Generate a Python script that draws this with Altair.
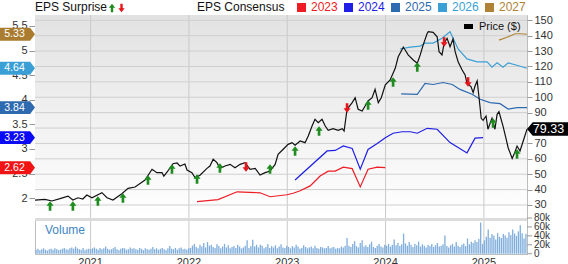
import altair as alt
import pandas as pd

FONT = "Liberation Sans"
W, H = 492, 239  # plot area: price panel on top, volume strip below

# ---------------- weekly volume, in thousands of shares ----------------
volume_start = "2020-06-12"
volume_2020 = [9, 11, 8, 10, 12, 9, 7, 10, 11, 9, 12, 10, 8, 9, 11, 13, 10, 9, 12, 14,
               11, 16, 12, 10, 9, 13, 8, 10, 11]
volume_2021 = [10, 12, 14, 11, 9, 13, 10, 12, 16, 11, 9, 10, 12, 15, 10, 8, 11, 13, 12, 9,
               10, 14, 11, 12, 10, 9, 13, 11, 8, 12, 10, 9, 11, 15, 10, 12, 9, 11, 13, 10,
               8, 12, 17, 11, 10, 13, 9, 12, 14, 10, 11, 9, 12]
volume_2022 = [13, 18, 22, 15, 12, 20, 16, 24, 14, 26, 18, 20, 15, 13, 21, 17, 12, 16, 22, 14,
               19, 12, 15, 17, 13, 20, 16, 12, 14, 18, 30, 13, 17, 31, 16, 20, 14, 20, 18, 12,
               15, 22, 13, 17, 14, 19, 12, 16, 21, 14, 13, 18]
volume_2023 = [15, 12, 17, 14, 20, 16, 11, 13, 19, 15, 12, 14, 16, 12, 18, 13, 11, 15, 14, 12,
               13, 17, 12, 14, 15, 11, 13, 12, 16, 14, 18, 35, 18, 15, 22, 28, 17, 14, 24, 30,
               16, 19, 15, 21, 27, 15, 13, 18, 22, 16, 14, 20]
volume_2024 = [18, 22, 16, 20, 32, 19, 24, 17, 21, 45, 23, 18, 26, 20, 15, 22, 19, 27, 16, 21,
               18, 14, 20, 17, 22, 15, 19, 24, 16, 18, 21, 41, 17, 14, 19, 22, 16, 26, 18, 15,
               20, 23, 17, 34, 21, 27, 24, 30, 26, 33, 70, 22]
volume_2025 = [30, 38, 54, 36, 44, 40, 32, 46, 38, 35, 44, 41, 36, 48, 42, 54, 45, 40, 50, 64,
               46, 34, 44]

# ---------------- share price ($) ----------------
price_dates = [
    "2020-06-08", "2020-07-15", "2020-08-10", "2020-09-09", "2020-10-09", "2020-10-27",
    "2020-11-15", "2020-12-03", "2020-12-18", "2021-01-06", "2021-02-12", "2021-03-03",
    "2021-03-25", "2021-04-27", "2021-05-20", "2021-06-15", "2021-07-22", "2021-08-17",
    "2021-09-04", "2021-09-23", "2021-09-30", "2021-10-15", "2021-11-03", "2021-11-18",
    "2021-11-29", "2021-12-17", "2021-12-25", "2022-01-12", "2022-01-24", "2022-02-11",
    "2022-03-09", "2022-03-20", "2022-04-01", "2022-04-15", "2022-04-26", "2022-05-15",
    "2022-06-03", "2022-06-21", "2022-07-10", "2022-07-28", "2022-08-16", "2022-09-04",
    "2022-09-22", "2022-10-11", "2022-10-29", "2022-11-17", "2022-11-28", "2022-12-17",
    "2023-01-04", "2023-01-19", "2023-01-30", "2023-02-18", "2023-03-08", "2023-03-20",
    "2023-04-03", "2023-04-14", "2023-04-26", "2023-05-10", "2023-05-22", "2023-06-02",
    "2023-06-20", "2023-07-09", "2023-07-24", "2023-07-31", "2023-08-11", "2023-08-30",
    "2023-09-10", "2023-09-21", "2023-10-06", "2023-10-17", "2023-10-28", "2023-11-12",
    "2023-11-23", "2023-12-05", "2023-12-16", "2023-12-31", "2024-01-18", "2024-02-06",
    "2024-02-17", "2024-03-07", "2024-03-14", "2024-03-25", "2024-04-13", "2024-04-28",
    "2024-05-09", "2024-05-20", "2024-06-04", "2024-06-08", "2024-06-26", "2024-07-11",
    "2024-07-18", "2024-07-29", "2024-08-06", "2024-08-17", "2024-08-28", "2024-09-08",
    "2024-09-16", "2024-09-27", "2024-10-12", "2024-10-23", "2024-10-30", "2024-11-14",
    "2024-11-22", "2024-11-29", "2024-12-07", "2024-12-14", "2024-12-22", "2024-12-29",
    "2025-01-09", "2025-01-16", "2025-01-31", "2025-02-11", "2025-02-19", "2025-02-26",
    "2025-03-13", "2025-03-24", "2025-04-01", "2025-04-16", "2025-04-23", "2025-05-04",
    "2025-05-15", "2025-05-27", "2025-06-10",
]
price_values = [
    33.2, 33.7, 32.6, 34.1, 35.8, 33.2, 34.7, 33.9, 36.5, 34.7, 38.0, 34.7,
    33.2, 37.3, 40.8, 41.7, 46.2, 53.2, 51.0, 51.0, 48.8, 52.1, 56.8, 57.3,
    55.3, 56.6, 52.7, 51.0, 47.7, 49.3, 53.8, 55.3, 59.7, 57.5, 53.8, 55.3,
    56.4, 54.2, 56.4, 57.5, 53.2, 53.8, 49.5, 51.0, 52.1, 56.4, 62.9, 66.2,
    69.4, 70.5, 68.8, 71.6, 70.5, 74.8, 81.3, 85.7, 83.5, 85.7, 81.3, 78.5,
    79.6, 78.5, 79.6, 78.1, 92.2, 96.5, 99.7, 92.2, 91.1, 94.3, 97.6, 99.7,
    105.2, 96.5, 99.7, 108.0, 111.2, 118.8, 126.3, 132.5, 130.7, 127.5, 124.2, 122.1,
    127.5, 134.0, 141.6, 142.6, 142.2, 139.3, 129.6, 127.5, 135.1, 138.3, 132.8, 137.8,
    129.6, 123.1, 117.7, 114.5, 109.1, 106.9, 103.0, 107.3, 110.6, 99.7, 86.3, 85.0,
    87.8, 79.2, 86.3, 79.2, 88.9, 90.6, 81.3, 73.3, 67.2, 60.3, 62.9, 68.3,
    65.1, 71.6, 79.33,
]
last_price = 79.33

# ---------------- EPS consensus, by fiscal year ----------------
eps_2023_dates = ["2022-01-31", "2022-04-19", "2022-06-29", "2022-09-22", "2022-10-29",
                  "2022-12-31", "2023-01-23", "2023-02-18", "2023-03-27", "2023-05-03",
                  "2023-06-02", "2023-06-28", "2023-07-28", "2023-08-30", "2023-09-29",
                  "2023-10-28", "2023-12-01", "2023-12-31"]
eps_2023_values = [1.93, 1.97, 2.13, 2.11, 2.03, 2.07, 2.10, 2.15, 2.25, 2.45,
                   2.55, 2.55, 2.63, 2.60, 2.23, 2.59, 2.63, 2.62]

eps_2024_dates = ["2023-01-30", "2023-05-29", "2023-06-28", "2023-07-28", "2023-08-30",
                  "2023-09-29", "2023-10-28", "2023-12-01", "2023-12-31", "2024-01-29",
                  "2024-03-03", "2024-04-02", "2024-04-28", "2024-06-04", "2024-07-11",
                  "2024-08-28", "2024-10-30", "2024-11-29", "2024-12-29"]
eps_2024_values = [2.37, 2.96, 2.97, 3.06, 3.01, 2.59, 2.99, 3.11, 3.23, 3.32,
                   3.35, 3.35, 3.32, 3.42, 3.40, 3.13, 2.92, 3.22, 3.23]

eps_2025_dates = ["2024-02-28", "2024-04-28", "2024-05-27", "2024-06-26", "2024-08-02",
                  "2024-09-05", "2024-10-04", "2024-11-18", "2024-12-18", "2025-01-24",
                  "2025-03-02", "2025-04-01", "2025-05-04", "2025-06-10"]
eps_2025_values = [4.12, 4.11, 4.33, 4.31, 4.35, 4.31, 4.21, 4.11, 4.01, 3.94,
                   3.92, 3.81, 3.84, 3.84]

eps_2026_dates = ["2024-02-24", "2024-04-02", "2024-05-09", "2024-05-27", "2024-06-26",
                  "2024-07-29", "2024-08-28", "2024-09-27", "2024-10-30", "2024-12-07",
                  "2025-01-13", "2025-01-31", "2025-02-19", "2025-03-13", "2025-04-01",
                  "2025-04-27", "2025-06-10"]
eps_2026_values = [5.03, 5.07, 5.09, 5.15, 5.15, 5.25, 5.38, 5.03, 4.83, 4.77,
                   4.77, 4.66, 4.75, 4.66, 4.75, 4.71, 4.64]

eps_2027_dates = ["2025-02-26", "2025-03-28", "2025-04-27", "2025-05-15", "2025-06-10"]
eps_2027_values = [5.21, 5.27, 5.34, 5.34, 5.33]

consensus_years = ["2023", "2024", "2025", "2026", "2027"]
consensus_colors = ["#EE1C25", "#1E1EE6", "#2E6AB0", "#3A9FD5", "#B08236"]
badge_colors = ["#F01414", "#0A0AF5", "#2E6AB0", "#3A9FD5", "#A97C2F"]
latest_consensus = [2.62, 3.23, 3.84, 4.64, 5.33]

# ---------------- quarterly EPS surprises ----------------
surprise_dates = ["2020-08-03", "2020-10-27", "2021-01-28", "2021-05-01", "2021-08-02",
                  "2021-10-30", "2022-01-31", "2022-04-26", "2022-08-01", "2022-10-29",
                  "2023-01-30", "2023-04-29", "2023-08-11", "2023-10-28", "2024-01-29",
                  "2024-04-28", "2024-08-06", "2024-11-03", "2025-02-04", "2025-05-04"]
surprise_levels = [29.3, 29.3, 32.6, 34.5, 46.2, 53.4, 46.9, 54.0, 54.7, 53.4,
                   65.1, 78.1, 93.0, 94.9, 109.9, 119.7, 135.9, 109.9, 83.3, 63.2]
surprise_dirs = ["up", "up", "up", "up", "up", "up", "up", "up", "down", "up",
                 "up", "up", "down", "up", "up", "up", "down", "down", "up", "up"]

# ---------------- axis ticks ----------------
price_ticks = [30, 40, 50, 60, 70, 80, 90, 100, 110, 120, 130, 140, 150]
eps_ticks = [2, 2.5, 3, 3.5, 4, 4.5, 5, 5.5]
volume_ticks = [0, 20, 40, 60, 80]
volume_tick_labels = ["0", "20k", "40k", "60k", "80k"]
year_ticks = [2021, 2022, 2023, 2024, 2025]
year_tick_labels = ["2021", "2022", "2023", "2024", "2025"]
first_day, last_day = "2020-06-08", "2025-06-10"


def year_fraction(day):
    """Calendar date -> fractional year, used as the horizontal position."""
    ts = pd.Timestamp(day)
    return ts.year + (ts.dayofyear - 1) / (366 if ts.is_leap_year else 365)


def with_position(df):
    df = df.copy()
    df["t"] = [year_fraction(d) for d in df["date"]]
    return df


# ---------------- tables ----------------
volume_all = volume_2020 + volume_2021 + volume_2022 + volume_2023 + volume_2024 + volume_2025
volume_df = with_position(pd.DataFrame({
    "date": list(pd.date_range(volume_start, periods=len(volume_all), freq="7D").strftime("%Y-%m-%d")),
    "volume": volume_all,
}))
price_df = with_position(pd.DataFrame({"date": price_dates, "price": price_values}))
eps_df = with_position(pd.concat([
    pd.DataFrame({"date": d, "eps": v, "year": y})
    for d, v, y in [
        (eps_2023_dates, eps_2023_values, "2023"),
        (eps_2024_dates, eps_2024_values, "2024"),
        (eps_2025_dates, eps_2025_values, "2025"),
        (eps_2026_dates, eps_2026_values, "2026"),
        (eps_2027_dates, eps_2027_values, "2027"),
    ]
], ignore_index=True))
badge_df = pd.DataFrame({"year": consensus_years, "eps": latest_consensus})
surprise_df = with_position(pd.DataFrame({"date": surprise_dates, "price": surprise_levels,
                                          "dir": surprise_dirs}))
vol_tick_df = pd.DataFrame({"v": volume_ticks, "label": volume_tick_labels})
year_df = pd.DataFrame({"t": year_ticks, "label": year_tick_labels})

# ---------------- scales ----------------
# The value scales all span the full plot height; their domains place the price
# panel in the upper part and the volume strip along the bottom.
x_scale = alt.Scale(domain=[year_fraction(first_day), year_fraction(last_day)], nice=False, zero=False)
price_scale = alt.Scale(domain=[-1.84, 153.44], nice=False, zero=False)
eps_scale = alt.Scale(domain=[0.8666, 5.7211], nice=False, zero=False)
vol_scale = alt.Scale(domain=[-0.67, 534.9], nice=False, zero=False)
badge_color = alt.Color("year:N", scale=alt.Scale(domain=consensus_years, range=badge_colors), legend=None)
line_color = alt.Color("year:N", scale=alt.Scale(domain=consensus_years, range=consensus_colors), legend=None)

X = alt.X("t:Q", scale=x_scale, axis=None)

# symbol paths in the [-1, 1] box
UP = "M0,-1L0.75,-0.05L0.28,-0.05L0.28,1L-0.28,1L-0.28,-0.05L-0.75,-0.05Z"
DOWN = "M0,1L0.75,0.05L0.28,0.05L0.28,-1L-0.28,-1L-0.28,0.05L-0.75,0.05Z"
TAG_RIGHT = "M-1,-0.37L0.72,-0.37L1,0L0.72,0.37L-1,0.37Z"
TAG_LEFT = "M-1,0L-0.72,-0.33L1,-0.33L1,0.33L-0.72,0.33Z"
GREEN, RED = "#1E8C1E", "#E8141B"

layers = []

# panel background (soft gray fading to white)
layers.append(
    alt.Chart(pd.DataFrame({"panel": ["price"]})).mark_rect(
        color=alt.LinearGradient(
            gradient="linear",
            stops=[alt.GradientStop(color="#E2E2E2", offset=0),
                   alt.GradientStop(color="#FFFFFF", offset=1)],
            x1=1, x2=1, y1=0, y2=1),
    ).encode(x=alt.value(0), x2=alt.value(W), y=alt.value(0), y2=alt.value(203))
)

# grid
layers.append(
    alt.Chart(year_df).mark_rule(color="#C9C9C9", strokeWidth=1).encode(x=X)
)
layers.append(
    alt.Chart(pd.DataFrame({"price": price_ticks})).mark_rule(color="#CFCFCF", strokeWidth=1)
    .encode(y=alt.Y("price:Q", scale=price_scale, axis=None))
)
layers.append(
    alt.Chart(pd.DataFrame({"panel": ["divider"]})).mark_rule(color="#DCDCDC", strokeWidth=3)
    .encode(x=alt.value(0), x2=alt.value(W), y=alt.value(204.5))
)

# year labels under the plot
layers.append(
    alt.Chart(year_df).mark_text(align="center", baseline="top", fontSize=11,
                                 font=FONT, color="#333333")
    .encode(x=X, y=alt.value(H + 2.5), text="label:N")
)

# volume
layers.append(
    alt.Chart(volume_df).transform_calculate(base="0")
    .mark_rule(color="#7FAEDC", strokeWidth=1.3).encode(
        x=X,
        y=alt.Y("volume:Q", scale=vol_scale, axis=None),
        y2="base:Q",
    )
)
layers.append(
    alt.Chart(vol_tick_df).mark_rule(color="#999999")
    .encode(x=alt.value(W), x2=alt.value(W + 5), y=alt.Y("v:Q", scale=vol_scale, axis=None))
)
layers.append(
    alt.Chart(vol_tick_df).mark_text(align="left", baseline="middle", fontSize=10,
                                     font=FONT, color="#333333")
    .encode(x=alt.value(W + 7), y=alt.Y("v:Q", scale=vol_scale, axis=None), text="label:N")
)
layers.append(
    alt.Chart(pd.DataFrame({"label": ["Volume"]})).mark_text(
        align="left", baseline="middle", fontSize=12, font=FONT, color="#3F86C4")
    .encode(x=alt.value(10), y=alt.value(215), text="label:N")
)

# EPS consensus lines (left axis)
layers.append(
    alt.Chart(eps_df).mark_line(strokeWidth=1.2).encode(
        x=X,
        y=alt.Y("eps:Q", scale=eps_scale, axis=alt.Axis(
            values=eps_ticks, format="~g", grid=False, domain=False,
            tickSize=6, tickColor="#999999", labelPadding=2, labelFontSize=11,
            labelColor="#333333", labelFont=FONT, title=None)),
        color=line_color,
        detail="year:N",
    )
)

# price line (right axis)
layers.append(
    alt.Chart(price_df).mark_line(color="#111111", strokeWidth=1.2).encode(
        x=X,
        y=alt.Y("price:Q", scale=price_scale, axis=alt.Axis(
            values=price_ticks, grid=False, domain=False,
            tickSize=5, tickColor="#999999", labelPadding=2, labelFontSize=11,
            labelColor="#333333", labelFont=FONT, title=None)),
    )
)

# surprise arrows
for direction, path, col in [("up", UP, GREEN), ("down", DOWN, RED)]:
    layers.append(
        alt.Chart(surprise_df).transform_filter(alt.datum.dir == direction)
        .mark_point(shape=path, size=90, filled=True, opacity=1, color=col, strokeWidth=0)
        .encode(x=X, y=alt.Y("price:Q", scale=price_scale, axis=None))
    )

# latest consensus tags on the left
layers.append(
    alt.Chart(badge_df).mark_point(shape=TAG_RIGHT, size=1225, filled=True, opacity=1, strokeWidth=0)
    .encode(x=alt.value(-17.5), y=alt.Y("eps:Q", scale=eps_scale, axis=None), color=badge_color)
)
layers.append(
    alt.Chart(badge_df).mark_text(color="white", fontSize=10.5, font=FONT, align="center", baseline="middle")
    .encode(x=alt.value(-20.5), y=alt.Y("eps:Q", scale=eps_scale, axis=None),
            text=alt.Text("eps:Q", format=".2f"))
)

# last price tag on the right
last_df = pd.DataFrame({"price": [last_price]})
layers.append(
    alt.Chart(last_df).mark_point(shape=TAG_LEFT, size=1681, filled=True, opacity=1,
                                  color="#000000", strokeWidth=0)
    .encode(x=alt.value(512.5), y=alt.Y("price:Q", scale=price_scale, axis=None))
)
layers.append(
    alt.Chart(last_df).mark_text(color="white", fontSize=12.5, font=FONT, align="center", baseline="middle")
    .encode(x=alt.value(513.5), y=alt.Y("price:Q", scale=price_scale, axis=None),
            text=alt.Text("price:Q", format=".2f"))
)

# header legend
layers.append(
    alt.Chart(pd.DataFrame({"label": ["EPS Surprise"]})).mark_text(
        align="left", baseline="alphabetic", fontSize=12, font=FONT, color="#111111")
    .encode(x=alt.value(0), y=alt.value(-4), text="label:N")
)
layers.append(
    alt.Chart(pd.DataFrame({"dir": ["up"]})).mark_point(
        shape=UP, size=72, filled=True, opacity=1, color=GREEN, strokeWidth=0)
    .encode(x=alt.value(77), y=alt.value(-7))
)
layers.append(
    alt.Chart(pd.DataFrame({"dir": ["down"]})).mark_point(
        shape=DOWN, size=72, filled=True, opacity=1, color=RED, strokeWidth=0)
    .encode(x=alt.value(86.5), y=alt.value(-7))
)
layers.append(
    alt.Chart(pd.DataFrame({"label": ["EPS Consensus"]})).mark_text(
        align="left", baseline="alphabetic", fontSize=12, font=FONT, color="#111111")
    .encode(x=alt.value(162), y=alt.value(-4), text="label:N")
)
for i, (yr, col) in enumerate(zip(consensus_years, consensus_colors)):
    item = pd.DataFrame({"year": [yr]})
    layers.append(
        alt.Chart(item).mark_point(shape="square", size=81, filled=True, opacity=1,
                                   color=col, strokeWidth=0)
        .encode(x=alt.value(266.5 + 47 * i), y=alt.value(-7.5))
    )
    layers.append(
        alt.Chart(item).mark_text(align="left", baseline="alphabetic", fontSize=12,
                                  font=FONT, color=col)
        .encode(x=alt.value(276 + 47 * i), y=alt.value(-4.5), text="year:N")
    )

# price key inside the panel
layers.append(
    alt.Chart(pd.DataFrame({"key": ["price"]})).mark_rect(color="#000000")
    .encode(x=alt.value(429), x2=alt.value(438), y=alt.value(9), y2=alt.value(14))
)
layers.append(
    alt.Chart(pd.DataFrame({"label": ["Price ($)"]})).mark_text(
        align="left", baseline="middle", fontSize=11, font=FONT, color="#111111")
    .encode(x=alt.value(444), y=alt.value(11.5), text="label:N")
)

chart = (
    alt.layer(*layers)
    .resolve_scale(y="independent", color="independent")
    .properties(width=W, height=H, background="white", padding=0)
    .configure_view(stroke="#BDBDBD", strokeWidth=1)
)

chart.save("out.html", embed_options={"renderer": "svg", "actions": False})
